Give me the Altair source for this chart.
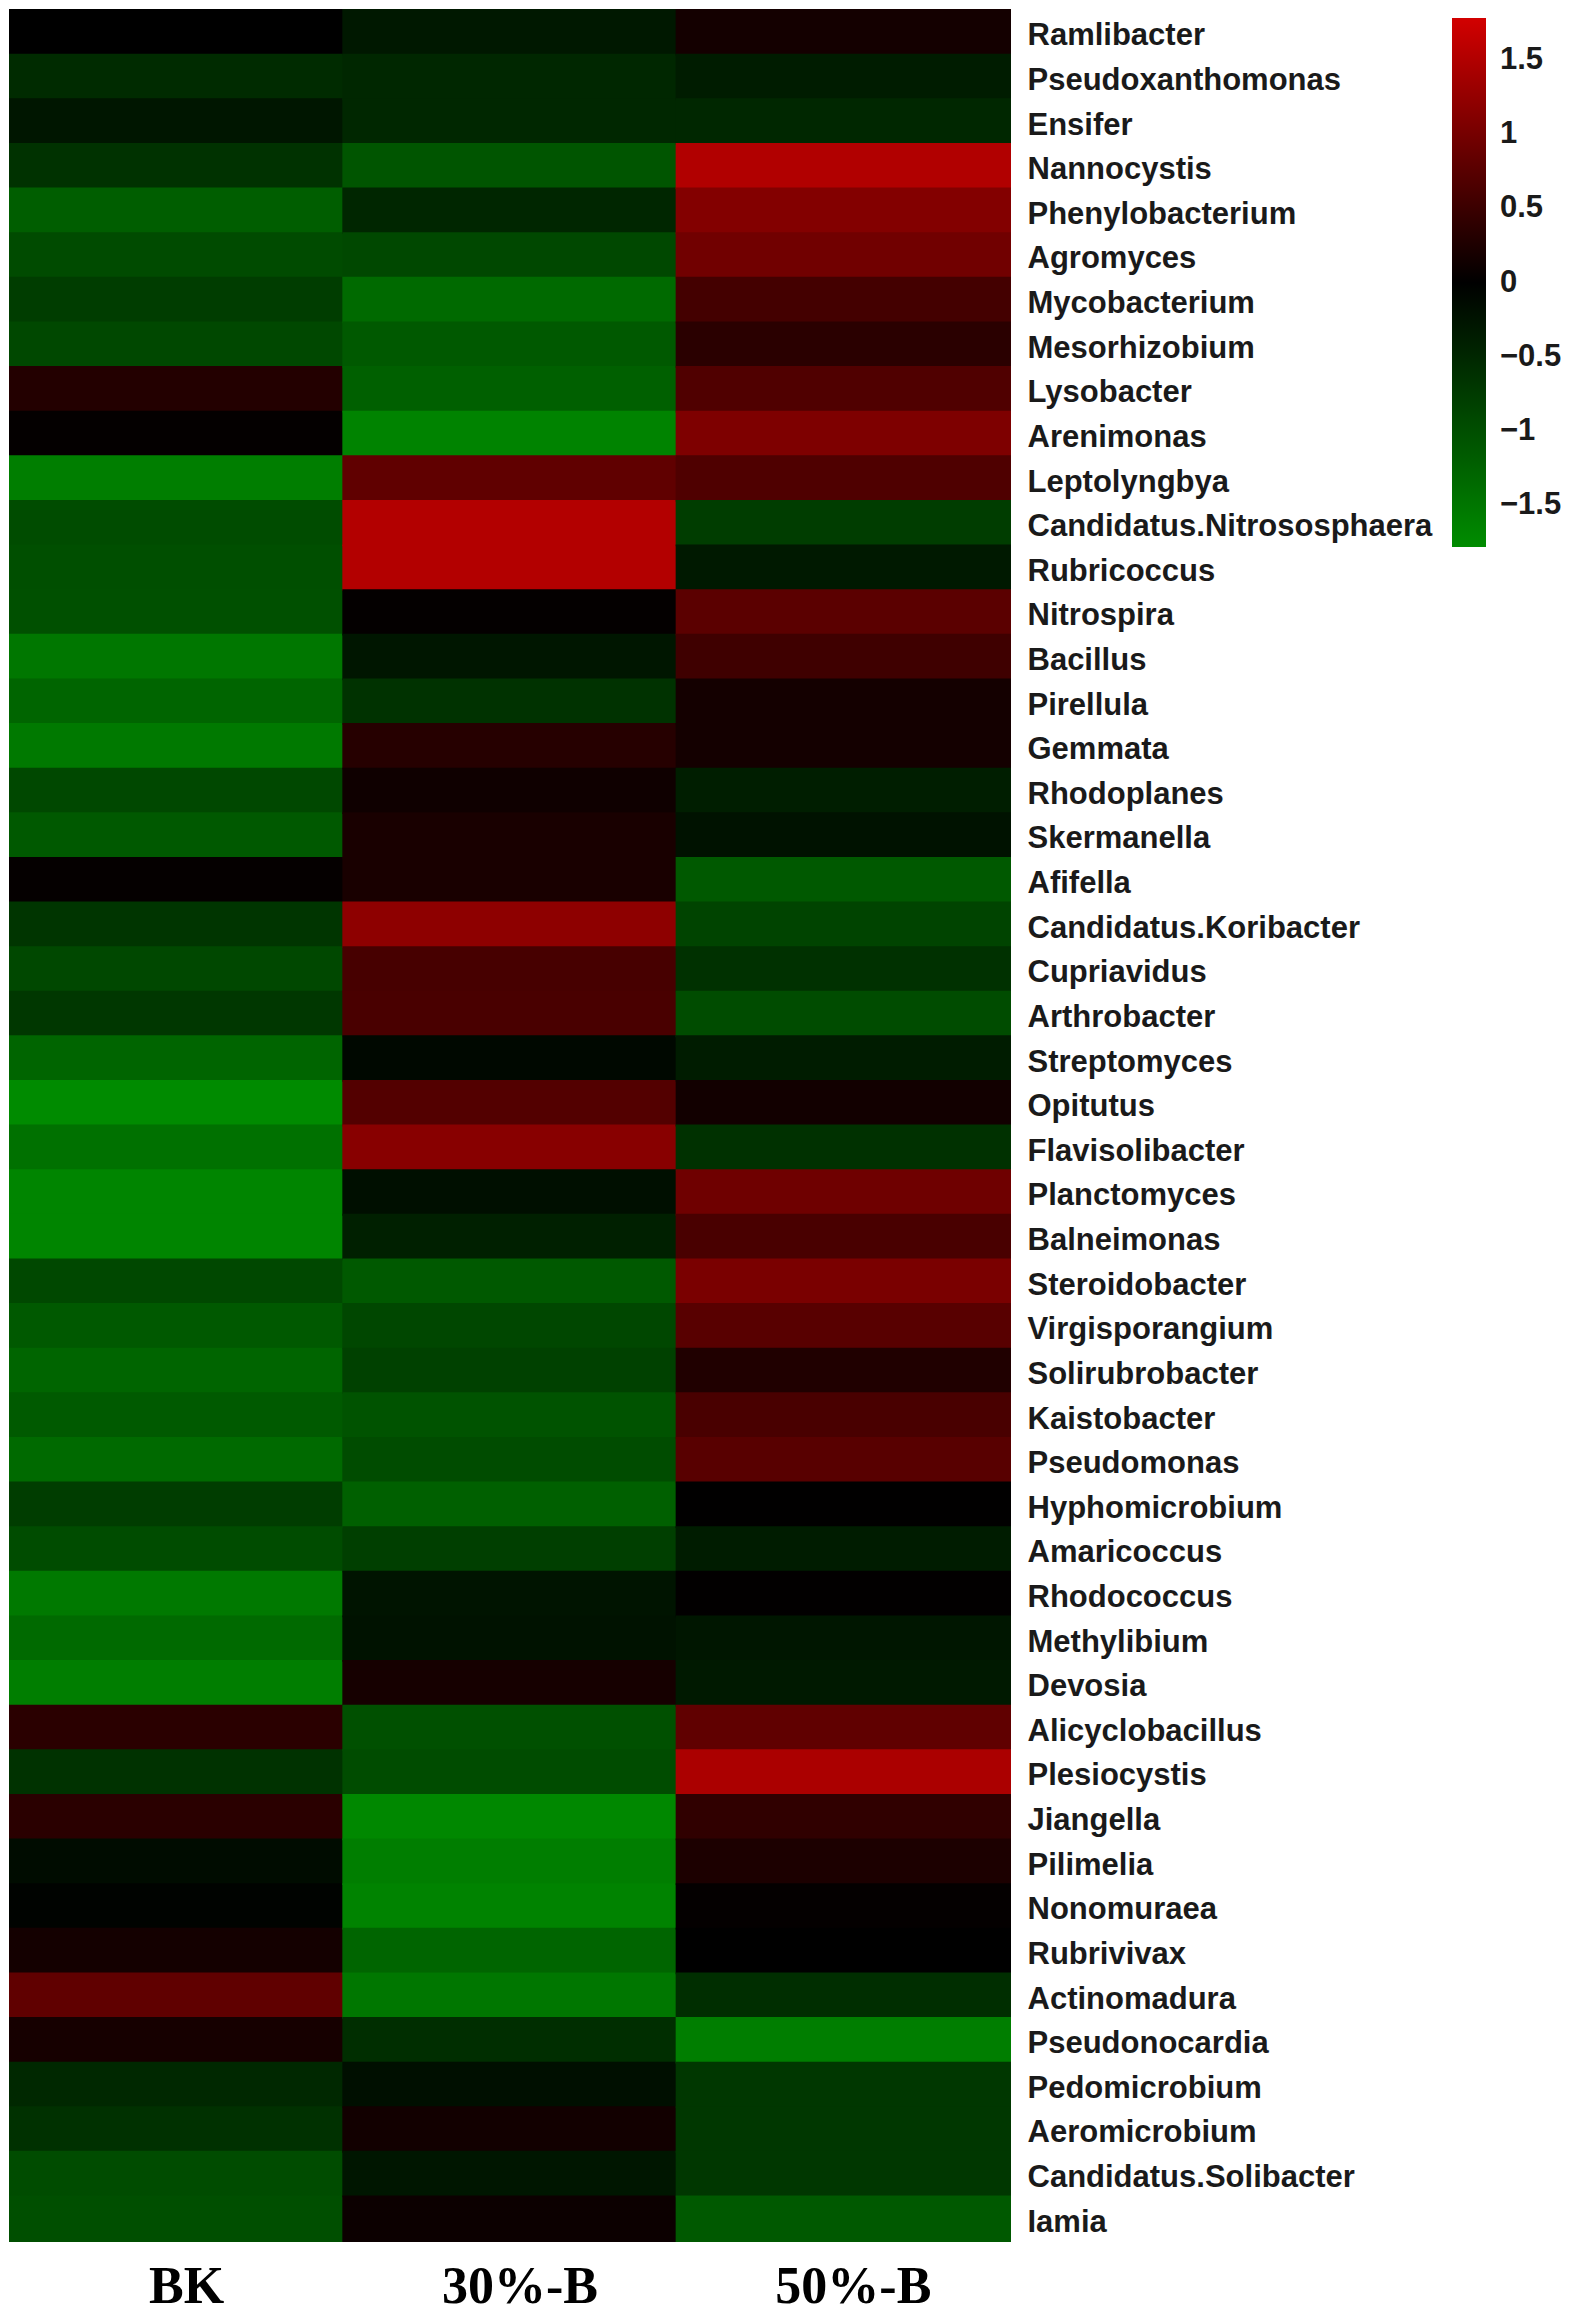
import altair as alt
import pandas as pd

genera = [
    "Ramlibacter", "Pseudoxanthomonas", "Ensifer", "Nannocystis", "Phenylobacterium",
    "Agromyces", "Mycobacterium", "Mesorhizobium", "Lysobacter", "Arenimonas",
    "Leptolyngbya", "Candidatus.Nitrososphaera", "Rubricoccus", "Nitrospira", "Bacillus",
    "Pirellula", "Gemmata", "Rhodoplanes", "Skermanella", "Afifella",
    "Candidatus.Koribacter", "Cupriavidus", "Arthrobacter", "Streptomyces", "Opitutus",
    "Flavisolibacter", "Planctomyces", "Balneimonas", "Steroidobacter", "Virgisporangium",
    "Solirubrobacter", "Kaistobacter", "Pseudomonas", "Hyphomicrobium", "Amaricoccus",
    "Rhodococcus", "Methylibium", "Devosia", "Alicyclobacillus", "Plesiocystis",
    "Jiangella", "Pilimelia", "Nonomuraea", "Rubrivivax", "Actinomadura",
    "Pseudonocardia", "Pedomicrobium", "Aeromicrobium", "Candidatus.Solibacter", "Iamia",
]

groups = ["BK", "30%-B", "50%-B"]

bk = [
    0.00, -0.55, -0.28, -0.64, -1.20, -0.95, -0.77, -0.92, 0.30, 0.03,
    -1.60, -0.96, -1.00, -1.02, -1.51, -1.28, -1.54, -0.92, -1.13, 0.04,
    -0.67, -0.92, -0.70, -1.28, -1.77, -1.44, -1.69, -1.69, -0.92, -1.13,
    -1.28, -1.15, -1.35, -0.77, -0.96, -1.54, -1.35, -1.60, 0.36, -0.64,
    0.36, -0.15, -0.04, 0.17, 0.81, 0.19, -0.51, -0.62, -0.96, -1.00,
]
b30 = [
    -0.30, -0.50, -0.50, -1.08, -0.48, -0.92, -1.35, -1.13, -1.22, -1.67,
    0.81, 1.52, 1.52, 0.03, -0.28, -0.64, 0.32, 0.13, 0.21, 0.21,
    1.20, 0.60, 0.62, -0.10, 0.70, 1.15, -0.19, -0.41, -1.13, -0.90,
    -0.83, -1.05, -0.96, -1.22, -0.80, -0.26, -0.23, 0.19, -1.02, -0.96,
    -1.73, -1.60, -1.67, -1.28, -1.51, -0.58, -0.19, 0.15, -0.28, 0.10,
]
b50 = [
    0.17, -0.35, -0.50, 1.50, 1.11, 0.96, 0.58, 0.36, 0.68, 1.07,
    0.67, -0.77, -0.32, 0.77, 0.53, 0.17, 0.17, -0.38, -0.23, -1.13,
    -0.87, -0.62, -0.96, -0.36, 0.15, -0.62, 0.94, 0.62, 1.03, 0.75,
    0.27, 0.62, 0.75, 0.01, -0.36, 0.02, -0.28, -0.32, 0.81, 1.45,
    0.41, 0.24, 0.03, 0.00, -0.58, -1.60, -0.70, -0.70, -0.70, -1.13,
]

legend_values = [-1.5, -1, -0.5, 0, 0.5, 1, 1.5]

rows = []
for g, vals in zip(groups, [bk, b30, b50]):
    for name, v in zip(genera, vals):
        rows.append({"genus": name, "group": g, "value": v})
df = pd.DataFrame(rows)

domain_pts = [-1.78, 0, 1.78]
range_cols = ["#008c00", "#000000", "#d20000"]

chart = (
    alt.Chart(df)
    .mark_rect(
        strokeWidth=0,
        height=alt.RelativeBandSize(band=1.04),
        width=alt.RelativeBandSize(band=1.006),
    )
    .encode(
        x=alt.X(
            "group:N",
            sort=groups,
            scale=alt.Scale(paddingInner=0, paddingOuter=0),
            axis=alt.Axis(
                title=None,
                orient="bottom",
                labelAngle=0,
                ticks=False,
                domain=False,
                labelFont="Liberation Serif",
                labelFontWeight="bold",
                labelFontSize=52,
                labelColor="#000000",
                labelPadding=20,
                labelOffset=10,
            ),
        ),
        y=alt.Y(
            "genus:N",
            sort=genera,
            scale=alt.Scale(paddingInner=0, paddingOuter=0),
            axis=alt.Axis(
                title=None,
                orient="right",
                ticks=False,
                domain=False,
                labelFont="Liberation Sans",
                labelFontWeight="bold",
                labelFontSize=31,
                labelColor="#1a1a1a",
                labelPadding=17,
                labelLimit=600,
                labelOffset=4,
            ),
        ),
        color=alt.Color(
            "value:Q",
            scale=alt.Scale(domain=domain_pts, range=range_cols, interpolate="rgb"),
            legend=alt.Legend(
                title=None,
                orient="none",
                legendX=1442,
                legendY=8,
                direction="vertical",
                gradientLength=529,
                gradientThickness=34,
                gradientStrokeWidth=0,
                values=legend_values,
                format="~g",
                labelFont="Liberation Sans",
                labelFontWeight="bold",
                labelFontSize=31,
                labelColor="#1a1a1a",
                labelOffset=14,
                padding=0,
            ),
        ),
    )
    .properties(
        width=1000,
        height=2231,
        padding={"left": 2, "top": 2, "right": 560, "bottom": 76},
        autosize=alt.AutoSizeParams(type="none"),
    )
    .configure_view(stroke=None)
)

chart.save("out.html", embed_options={"renderer": "svg", "actions": False})
